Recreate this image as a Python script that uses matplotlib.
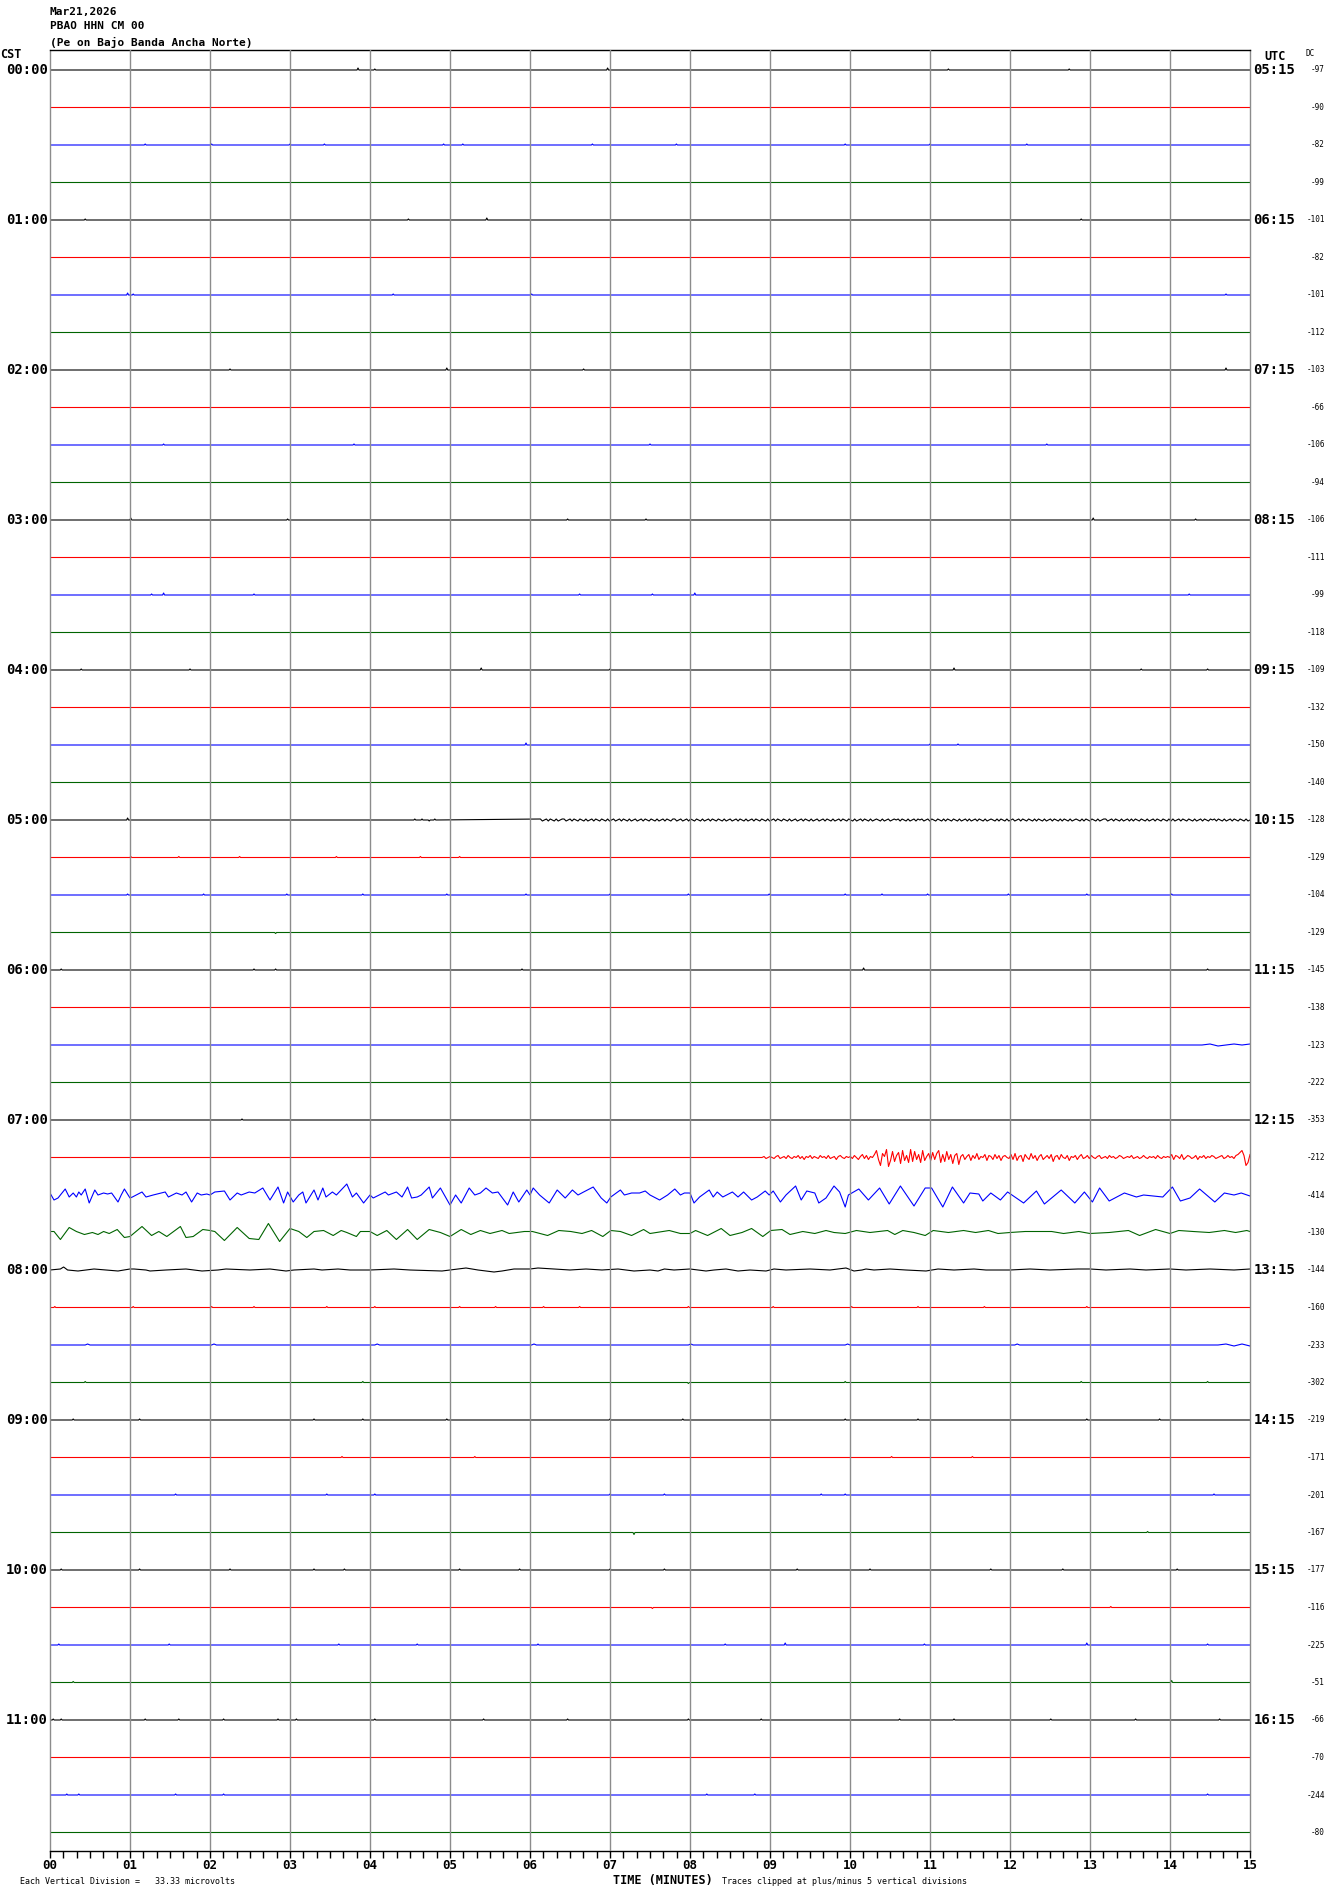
import numpy as np
import matplotlib.pyplot as plt

# textos de la cabecera
fecha = 'Mar21,2026'
estacion = 'PBAO HHN CM 00'
descripcion = '(Pe on Bajo Banda Ancha Norte)'

# etiquetas de hora (una por cada 4 trazas)
cst_labels = ['00:00', '01:00', '02:00', '03:00', '04:00', '05:00',
              '06:00', '07:00', '08:00', '09:00', '10:00', '11:00']
utc_labels = ['05:15', '06:15', '07:15', '08:15', '09:15', '10:15',
              '11:15', '12:15', '13:15', '14:15', '15:15', '16:15']
minute_labels = ['00', '01', '02', '03', '04', '05', '06', '07',
                 '08', '09', '10', '11', '12', '13', '14', '15']

# valor DC de cada traza (columna derecha)
dc_values = [-97, -90, -82, -99,
             -101, -82, -101, -112,
             -103, -66, -106, -94,
             -106, -111, -99, -118,
             -109, -132, -150, -140,
             -128, -129, -104, -129,
             -145, -138, -123, -222,
             -353, -212, -414, -130,
             -144, -160, -233, -302,
             -219, -171, -201, -167,
             -177, -116, -225, -51,
             -66, -70, -244, -80]

colores = ['black', 'red', 'blue', '#006400']

# amplitudes en pixeles del original (37.5 px = separacion entre trazas)
px_linea = 37.5

# pequenos picos en trazas tranquilas: traza -> [(minuto, amplitud)]
picos = {
    0: [(3.85, 2), (4.06, 1), (6.97, 2), (11.23, 1), (12.74, 1)],
    2: [(1.19, 1), (2.02, 1), (3.00, 1), (3.43, 1), (4.92, 1), (5.16, 1), (6.78, 1),
        (7.83, 1), (9.94, 1), (11.00, 1), (12.21, 1)],
    4: [(0.44, 1), (4.48, 1), (5.46, 2), (12.89, 1)],
    6: [(0.97, 2), (1.04, 1), (4.29, 1), (6.02, 1), (14.70, 1)],
    8: [(2.25, 1), (4.96, 2), (6.67, 1), (14.70, 2)],
    10: [(1.42, 1), (3.80, 1), (7.50, 1), (12.46, 1)],
    12: [(1.01, 2), (2.97, 1), (6.47, 1), (7.45, 1), (13.04, 2), (14.32, 1)],
    14: [(1.27, 1), (1.42, 2), (2.55, 1), (6.62, 1), (7.53, 1), (8.06, 2), (14.24, 1)],
    16: [(0.39, 1), (1.75, 1), (5.39, 2), (7.00, 1), (11.30, 2), (13.64, 1), (14.47, 1)],
    18: [(5.95, 2), (11.00, 1), (11.35, 1)],
    20: [(0.97, 2), (4.56, 1), (4.65, 1), (4.74, -1), (4.81, 1)],
    21: [(1.01, 1), (1.61, 1), (2.37, 1), (3.58, 1), (4.63, 1), (5.12, 1)],
    22: [(0.97, 1), (1.92, 1), (2.96, 1), (3.91, 1), (4.96, 1), (5.95, 1), (7.00, 1),
         (7.98, 1), (8.99, 1), (9.94, 1), (10.40, 1), (10.97, 1), (11.98, 1),
         (12.96, 1), (14.02, 1)],
    23: [(2.82, -1)],
    24: [(0.14, 1), (2.55, 1), (2.82, 1), (5.90, 1), (10.17, 2), (14.47, 1)],
    28: [(2.40, 1)],
    33: [(0.06, 1), (1.04, 1), (2.02, 1), (2.55, 1), (3.46, 1), (4.06, 1), (5.12, 1),
         (5.57, 1), (6.17, 1), (6.62, 1), (7.98, 1), (9.04, 1), (10.02, 1),
         (10.85, 1), (11.68, 1), (12.96, 1)],
    35: [(0.44, 1), (3.91, 1), (7.98, -1), (9.94, 1), (12.89, 1), (14.47, 1)],
    36: [(0.29, 1), (1.12, 1), (3.30, 1), (3.91, 1), (4.96, 1), (7.00, 1), (7.91, 1),
         (9.94, 1), (10.85, 1), (12.96, 1), (13.87, 1)],
    37: [(3.65, 1), (5.31, 1), (10.52, 1), (11.53, 1)],
    38: [(1.57, 1), (3.46, 1), (4.06, 1), (7.00, 1), (7.68, 1), (9.64, 1), (9.94, 1),
         (14.55, 1)],
    39: [(7.30, -2), (13.72, 1)],
    40: [(0.14, 1), (1.12, 1), (2.25, 1), (3.30, 1), (3.68, 1), (5.12, 1), (5.87, 1),
         (7.00, 1), (7.68, 1), (9.34, 1), (10.25, 1), (11.76, 1), (12.66, 1), (14.09, 1)],
    41: [(7.53, -1), (13.26, 1)],
    42: [(0.11, 1), (1.49, 1), (3.61, 1), (4.59, 1), (6.10, 1), (8.44, 1), (9.19, 2),
         (10.93, 1), (12.96, 2), (14.47, 1)],
    43: [(0.29, 1), (14.02, 2)],
    44: [(0.04, 1), (0.14, 1), (1.19, 1), (1.61, 1), (2.17, 1), (2.85, 1), (3.08, 1),
         (4.06, 1), (5.42, 1), (6.47, 1), (7.98, 1), (8.89, 1), (10.62, 1), (11.30, 1),
         (12.51, 1), (13.57, 1), (14.62, 1)],
    46: [(0.21, 1), (0.36, 1), (1.57, 1), (2.17, 1), (8.21, 1), (8.81, 1), (14.47, 1)],
}

# 05:00 ruido fino desde el minuto 6.13
ruido_0500 = [1, -1, 0, 1, -1, 1, 0, -1, 1, -1, 0, 1, 1, -1, 0, 1, -1, 1, 0, -1,
              1, 0, -1, 1, -1, 0, 1, -1, 1, 0, -1, 1, 0, -1, 1, -1, 0, 1, -1, 0,
              1, -1, 1, 0, -1, 1, -1, 0, 1, -1, 0, 1, -1, 1, 0, -1, 1, 0, -1, 1,
              -1, 0, 1, -1, 1, 0, -1, 1, 1, -1, 0, 1, -1, 0, 1, -1, 1, 0, -1, 1,
              0, -1, 1, -1, 0, 1, -1, 1, 0, -1, 1, 0, -1, 1, -1, 0, 1, -1, 0, 1,
              -1, 1, 0, -1, 1, -1, 0, 1, -1, 1, 0, -1, 1, 0, -1, 1, -1, 0, 1, -1,
              1, 0, -1, 1, 0, -1, 1, -1, 0, 1, -1, 0, 1, -1, 1, 0, -1, 1, -1, 0,
              1, -1, 0, 1, -1, 1, 0, -1, 1, -1, 0, 1, -1, 1, 0, -1, 1, 0, -1, 1,
              -1, 0, 1, -1, 1, 0, -1, 1, -1, 0, 1, 0, -1, 1, -1, 0, 1, -1, 0, 1,
              0, 1, -1, 1, 0, -1, 1, -1, 0, 1, -1, 1, 0, 1, -1, 0, 1, -1, 1, 0,
              -1, 1, 0, -1, 1, -1, 1, 0, -1, 1, 0, -1, 1, -1, 0, 1, -1, 1, -1, 0,
              1, -1, 1, 0, -1, 1, -1, 0, 1, 0, -1, 1, -1, 1, 0, -1, 1, -1, 0, 1,
              -1, 0, 1, -1, 1, 0, -1, 1, 0, -1, 1, -1, 1, 0, -1, 1, -1, 0, 1, -1,
              1, 0, -1, 1, -1, 1, 0, -1, 1, -1, 0, 1, 0, -1, 1, -1, 1, 0, -1, 1,
              0, -1, 1, -1, 0, 1, 1, -1, 0, 1, -1, 1, 0, -1, 1, -1, 0, 1, -1, 1,
              -1, 1, 0, -1, 1, 0, -1, 1, -1, 0, 1, -1, 1, 0, -1, 1, 0, -1, 1, -1,
              1, -1, 0, 1, -1, 1, 0, -1, 1, 0, -1, 1, -1, 0, 1, -1, 1, 0, -1, 1,
              0, 1, -1, 1, 0, -1, 1, -1, 0, 1, -1, 1, 0, -1, 1, 0, -1, 1, -1, 0]

# 07:15 sismo desde el minuto 8.9
ruido_0715 = [0, 1, -1, 0, 1, 0, -1, 1, 2, -1, 0, 1, -1, 2, 0, -1, 1, 0, 2, -1, 1, -2,
              1, 0, 2, -1, 1, 0, -1, 2, 0, 1, -1, 2, -1, 0, 1, -2, 1, 2, 0, -1, 1, 0,
              1, -1, 2, 0, -2, 1, 3, -1, 2, -2, 1, 0,
              3, 7, -2, -8, 4, 1, 8, -9, -3, 6, -4, 2,
              5, -6, 7, -3, 2, -5, 8, -4, 6, -2, 3, -5, 7, -3, 1, 4,
              -3, 5, -2, 4, 7, -5, 3, -4, 6, -2, 3, -6, 2, 4, -7, 1,
              3, -2, 1, 3, -3, 2, -1, 4, -2, 1, 0, 3, -3, 2, 1, -2, 3, -1, 2, -3, 1, 2, 0, -1,
              3, -2, 4, -3, 1, 2, -4, 3, 0, -2, 4, -1, 2, -3, 1, 3, -2, 0, 2, -1,
              3, -4, 1, 2, -2, 3, 0, -1, 2, -3, 1, 0, 2, -2, 1, 3, -1, 0, 2, -1,
              2, 0, -1, 1, 2, -1, 0, 1, -1, 2, 0, 1, -1, 0, 2, 1, -1, 0, 1, 0,
              2, -1, 0, 1, -1, 0, 2, 0, -1, 1, 0, 1, -1, 2, 0, -1, 1, 0, 1, 0,
              3, -2, 2, 1, -1, 3, -2, 0, 2, 1, -1, 0, 2, -2, 1, 0, 2, -1, 1, 0,
              2, 1, -1, 0, 1, 2, -1, 0, 2, 0, 1, -1, 2, 3, 5, 7, 2, -8, -5, 3]

# 07:30 azul
t_0730 = [0.00, 0.05, 0.10, 0.19, 0.24, 0.29, 0.33, 0.36, 0.39, 0.44, 0.49, 0.56, 0.60,
          0.67, 0.72, 0.77, 0.85, 0.89, 0.93, 1.00, 1.03, 1.15, 1.20, 1.29, 1.44, 1.48,
          1.58, 1.65, 1.70, 1.77, 1.84, 1.89, 1.96, 2.00, 2.06, 2.18, 2.25, 2.34, 2.39,
          2.49, 2.56, 2.66, 2.75, 2.85, 2.92, 2.97, 3.04, 3.11, 3.16, 3.20, 3.30, 3.35,
          3.41, 3.45, 3.53, 3.58, 3.71, 3.78, 3.83, 3.92, 4.00, 4.04, 4.19, 4.23, 4.33,
          4.40, 4.47, 4.52, 4.59, 4.64, 4.74, 4.78, 4.88, 5.00, 5.07, 5.14, 5.24, 5.31,
          5.38, 5.45, 5.53, 5.60, 5.72, 5.79, 5.86, 5.96, 6.00, 6.04, 6.12, 6.24, 6.34,
          6.44, 6.53, 6.60, 6.67, 6.79, 6.89, 6.96, 7.01, 7.13, 7.18, 7.27, 7.37, 7.44,
          7.50, 7.62, 7.72, 7.81, 7.88, 7.93, 8.00, 8.05, 8.12, 8.24, 8.29, 8.34, 8.41,
          8.53, 8.60, 8.67, 8.77, 8.84, 8.94, 8.99, 9.04, 9.13, 9.20, 9.32, 9.39, 9.46,
          9.56, 9.61, 9.70, 9.80, 9.87, 9.94, 9.98, 10.11, 10.23, 10.37, 10.49, 10.63,
          10.80, 10.94, 11.02, 11.16, 11.28, 11.42, 11.50, 11.61, 11.66, 11.76, 11.88,
          11.97, 12.17, 12.33, 12.43, 12.64, 12.81, 12.93, 13.03, 13.12, 13.24, 13.43,
          13.58, 13.67, 13.91, 14.03, 14.13, 14.25, 14.37, 14.56, 14.68, 14.80, 14.89,
          15.00]
v_0730 = [2, -5, -3, 6, -2, 2, -2, 3, 0, 6, -8, 5, 0,
          2, 1, 2, -7, 0, 6, -3, -2, 3, -2, 0, 3, -2,
          2, 0, 3, -7, 2, 0, 1, 0, 3, 4, -5, 2, 0,
          3, 2, 7, -5, 8, -8, 3, -7, 0, 3, -8, 5, -5,
          7, -2, 3, 0, 11, -2, 2, -8, 0, -3, 3, 0, 3,
          -2, 8, -3, -2, 0, 8, -3, 7, -10, 0, -8, 7, 0,
          2, 7, 2, 3, -10, 3, -7, 5, 0, 7, 0, -8, 5,
          -3, 5, 0, 3, 8, -3, -8, -2, 5, 0, 2, 2, 4,
          0, -5, 0, 6, 0, 2, 2, -8, -2, 5, -2, 3, -2,
          3, -2, 3, -5, -2, 4, 0, 4, -7, 0, 9, -5, 4,
          2, -8, -3, 9, 3, -12, 0, 6, -5, 7, -9, 9,
          -11, 7, 7, -12, 8, -8, 2, 1, -6, 2, -5,
          3, -8, 4, -9, 5, -8, 3, -7, 7, -6, 2,
          -2, 0, -2, 8, -6, -3, 6, -7, 2, 0, 2,
          -1]

# 07:45 verde
t_0745 = [0.00, 0.05, 0.13, 0.24, 0.33, 0.43, 0.53, 0.60, 0.67, 0.74, 0.84, 0.93, 1.00,
          1.15, 1.27, 1.36, 1.46, 1.63, 1.70, 1.79, 1.91, 2.00, 2.06, 2.18, 2.34, 2.49,
          2.61, 2.73, 2.87, 3.00, 3.11, 3.21, 3.30, 3.42, 3.54, 3.64, 3.71, 3.83, 3.88,
          4.00, 4.09, 4.21, 4.33, 4.47, 4.59, 4.74, 4.88, 5.00, 5.14, 5.26, 5.38, 5.50,
          5.65, 5.74, 5.93, 6.03, 6.22, 6.36, 6.51, 6.65, 6.77, 6.91, 7.01, 7.13, 7.27,
          7.42, 7.50, 7.74, 7.88, 8.00, 8.07, 8.22, 8.39, 8.50, 8.65, 8.77, 8.91, 9.01,
          9.15, 9.25, 9.41, 9.56, 9.70, 9.80, 9.94, 10.08, 10.25, 10.47, 10.56, 10.66,
          10.80, 10.94, 11.04, 11.23, 11.42, 11.57, 11.73, 11.85, 12.00, 12.19, 12.52,
          12.67, 12.86, 13.00, 13.24, 13.48, 13.62, 13.82, 14.00, 14.11, 14.29, 14.49,
          14.68, 14.82, 14.96, 15.00]
v_0745 = [1, 1, -7, 5, 1, -2, 0, -2, 1, -1, 3, -5, -4,
          6, -3, 1, -4, 6, -5, -4, 3, 2, 1, -8, 5, -6,
          -7, 9, -9, 4, 1, -5, 1, 2, -3, 2, 0, -4, 1,
          1, -3, 2, -7, 3, -7, 3, 0, -4, 3, -2, 2, -1,
          2, -1, 1, 1, -3, 2, 1, -1, 2, -4, 2, 1, -3,
          3, -1, 2, -1, -1, 2, -3, 4, -3, 0, 4, -4, 2,
          3, -2, 1, -1, 2, 0, -1, 2, 0, 2, -2, 2,
          0, -3, 2, 0, 2, 0, 2, -1, 0, 1, 1,
          -1, 1, -1, 0, 2, -3, 3, -1, 2, 1, 0,
          2, 0, 2, 1]

# 08:00 negro
t_0800 = [0.00, 0.13, 0.17, 0.22, 0.35, 0.55, 0.70, 0.85, 1.00, 1.05, 1.20, 1.25, 1.45,
          1.70, 1.90, 2.10, 2.20, 2.50, 2.75, 2.95, 3.05, 3.30, 3.40, 3.60, 3.75, 4.00,
          4.30, 4.50, 4.90, 5.10, 5.20, 5.35, 5.55, 5.65, 5.80, 6.00, 6.10, 6.30, 6.50,
          6.70, 6.90, 7.10, 7.30, 7.50, 7.60, 7.68, 7.80, 8.00, 8.20, 8.30, 8.45, 8.60,
          8.75, 8.95, 9.05, 9.20, 9.50, 9.75, 9.95, 10.05, 10.15, 10.20, 10.30, 10.50,
          10.70, 10.95, 11.10, 11.30, 11.55, 11.70, 12.00, 12.25, 12.50, 12.85, 13.00,
          13.20, 13.50, 13.70, 14.00, 14.20, 14.50, 14.80, 15.00]
v_0800 = [0, 1, 3, 0, -1, 1, 0, -1, 1, 1, 0, -1, 0,
          1, -1, 0, 1, 0, 1, -1, 0, 1, 0, 1, 0, 0,
          1, 0, -1, 1, 2, 0, -2, -1, 1, 1, 2, 1, 0,
          1, 0, 1, -1, 0, -1, 1, 0, 1, -1, 0, 1, -1,
          0, -1, 1, 0, 1, 0, 2, -1, 0, 1, 0, 1,
          0, -1, 1, 0, 1, 0, 0, 1, 0, 1, 1,
          0, 1, 0, 1, 0, 1, 0, 1]

# pequenas ondulaciones en 06:30 y 08:30
t_0630 = [0.00, 14.40, 14.50, 14.60, 14.70, 14.80, 14.90, 15.00]
v_0630 = [0, 0, 1, -1, 0, 1, 0, 1]
t_0830 = [0.00, 0.44, 0.47, 0.50, 2.02, 2.05, 2.08, 4.06, 4.09, 4.12, 6.02, 6.05, 6.08,
          7.98, 8.01, 8.04, 9.94, 9.97, 10.00, 12.06, 12.09, 12.12, 14.60, 14.70, 14.80,
          14.90, 15.00]
v_0830 = [0, 0, 1, 0, 0, 1, 0, 0, 1, 0, 0, 1, 0,
          0, 1, 0, 0, 1, 0, 0, 1, 0, 0, 1, -1, 1, -1]

ondas = {
    26: (t_0630, v_0630),
    29: (np.r_[0.0, np.linspace(8.9, 15.0, len(ruido_0715))], np.r_[0, ruido_0715]),
    30: (t_0730, v_0730),
    31: (t_0745, v_0745),
    32: (t_0800, v_0800),
    34: (t_0830, v_0830),
}

fig = plt.figure(figsize=(13.3, 18.94), dpi=100)
ax = fig.add_axes([50 / 1330, 43 / 1894, 1200 / 1330, 1801 / 1894])
ax.set_xlim(0, 15)
ax.set_ylim(-47 - 18.5 / px_linea, 20 / px_linea)

n_trazas = len(dc_values)
for i in range(n_trazas):
    if i in ondas:
        t, v = ondas[i]
        t = np.asarray(t, dtype=float)
        v = np.asarray(v, dtype=float)
    else:
        t = [0.0]
        v = [0.0]
        for (m, a) in picos.get(i, []):
            t += [m - 0.012, m, m + 0.012]
            v += [0, a, 0]
        if i == 20:
            t += list(np.linspace(6.13, 15.0, len(ruido_0500)))
            v += ruido_0500
        else:
            t.append(15.0)
            v.append(0)
        t = np.asarray(t)
        v = np.asarray(v, dtype=float)
        orden = np.argsort(t, kind='stable')
        t, v = t[orden], v[orden]
    ax.plot(t, -i + v / px_linea, color=colores[i % 4], lw=0.8, zorder=2)

# rejilla de minutos
for m in range(1, 15):
    ax.axvline(m, color='#8c8c8c', lw=1.0, zorder=3)

for lado in ['left', 'right']:
    ax.spines[lado].set_color('#8c8c8c')
    ax.spines[lado].set_linewidth(1.0)
ax.spines['top'].set_color('black')
ax.spines['top'].set_linewidth(1.0)
ax.spines['bottom'].set_color('black')
ax.spines['bottom'].set_linewidth(1.0)

mono = 'DejaVu Sans Mono'
ax.set_yticks([])
ax.set_xticks(range(16))
ax.set_xticklabels(minute_labels, fontfamily=mono, fontweight='bold', fontsize=9)
ax.set_xticks(np.arange(0, 15.01, 1 / 6), minor=True)
ax.tick_params(axis='x', which='both', direction='out', length=5, width=1.0,
               color='black', pad=1)

# etiquetas de hora y DC
for h in range(len(cst_labels)):
    ax.text(-0.002, -4 * h, cst_labels[h], transform=ax.get_yaxis_transform(),
            ha='right', va='center', fontfamily=mono, fontweight='bold', fontsize=10)
    ax.text(1.003, -4 * h, utc_labels[h], transform=ax.get_yaxis_transform(),
            ha='left', va='center', fontfamily=mono, fontweight='bold', fontsize=10)
for i in range(n_trazas):
    ax.text(1.0625, -i, str(dc_values[i]), transform=ax.get_yaxis_transform(),
            ha='right', va='center', fontfamily=mono, fontsize=5.5)

fig.text(50 / 1330, 1 - 12 / 1894, fecha, ha='left', va='center',
         fontfamily=mono, fontweight='bold', fontsize=8)
fig.text(50 / 1330, 1 - 26 / 1894, estacion, ha='left', va='center',
         fontfamily=mono, fontweight='bold', fontsize=8)
fig.text(50 / 1330, 1 - 42 / 1894, descripcion, ha='left', va='center',
         fontfamily=mono, fontweight='bold', fontsize=8)
fig.text(0, 1 - 55 / 1894, 'CST', ha='left', va='center',
         fontfamily=mono, fontweight='bold', fontsize=8.5)
fig.text(1264 / 1330, 1 - 56 / 1894, 'UTC', ha='left', va='center',
         fontfamily=mono, fontweight='bold', fontsize=8.5)
fig.text(1305 / 1330, 1 - 54 / 1894, 'DC', ha='left', va='center',
         fontfamily=mono, fontsize=5.5)

fig.text(20 / 1330, 1 - 1881 / 1894, 'Each Vertical Division =   33.33 microvolts',
         ha='left', va='center', fontfamily=mono, fontsize=6)
fig.text(613 / 1330, 1 - 1880 / 1894, 'TIME (MINUTES)', ha='left', va='center',
         fontfamily=mono, fontweight='bold', fontsize=8.5)
fig.text(722 / 1330, 1 - 1881 / 1894, 'Traces clipped at plus/minus 5 vertical divisions',
         ha='left', va='center', fontfamily=mono, fontsize=6)

fig.savefig('out.png', dpi=100)
